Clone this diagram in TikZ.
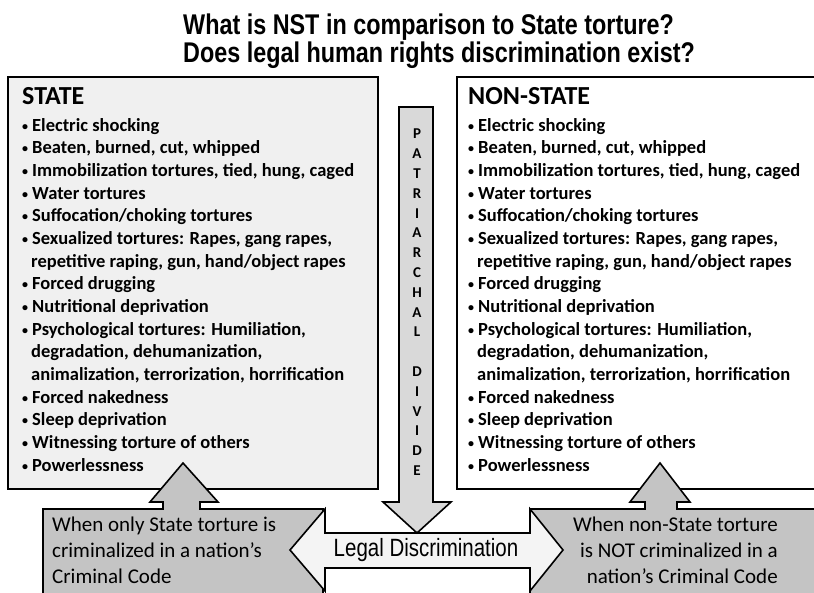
\documentclass[tikz,border=0pt]{standalone}
\usepackage{fontspec}
\setmainfont{Carlito}
\newfontfamily\narrowfont[FakeStretch=0.82]{Liberation Sans}
\definecolor{panelgray}{HTML}{F0F0F0}
\definecolor{dividegray}{HTML}{D9D9D9}
\definecolor{calloutgray}{HTML}{C4C4C4}
\definecolor{legalgray}{HTML}{F4F4F4}
\newcommand{\bl}{\makebox[10pt][l]{\raisebox{1pt}{\fontsize{12}{12}\selectfont\textbullet}}}
\newcommand{\cont}{\hspace*{9pt}}
\tikzset{
  panel/.style={draw=black, line width=1.6pt},
  arrowshape/.style={draw=black, line width=1.6pt, line join=miter},
  listtext/.style={anchor=north west, inner sep=0pt, align=left,
    font=\bfseries\fontsize{18.5}{22.67}\selectfont},
  headtext/.style={anchor=base west, inner sep=0pt,
    font=\bfseries\fontsize{26}{30}\selectfont},
  codetext/.style={inner sep=0pt, font=\fontsize{21}{26}\selectfont}
}
\begin{document}
\begin{tikzpicture}[x=1pt, y=-1pt]
  \useasboundingbox (0,0) rectangle (814,593);

  % title
  \node[anchor=north west, inner sep=0pt, align=left,
    font=\narrowfont\bfseries\fontsize{28.5}{28}\selectfont] (title) at (183,14)
    {What is NST in comparison to State torture?\\Does legal human rights discrimination exist?};

  % the two panels
  \draw[panel, fill=panelgray] (8,77) rectangle (378,489);
  \draw[panel, fill=white] (457,77) rectangle (830,489);

  \node[headtext] (statehead) at (22,105) {STATE};
  \node[headtext] (nonstatehead) at (468,105) {NON-STATE};

  \node[listtext] (statelist) at (22,118) {%
    \bl Electric shocking\\
    \bl Beaten, burned, cut, whipped\\
    \bl Immobilization tortures, tied, hung, caged\\
    \bl Water tortures\\
    \bl Suffocation/choking tortures\\
    \bl Sexualized tortures: Rapes, gang rapes,\\
    \cont repetitive raping, gun, hand/object rapes\\
    \bl Forced drugging\\
    \bl Nutritional deprivation\\
    \bl Psychological tortures: Humiliation,\\
    \cont degradation, dehumanization,\\
    \cont animalization, terrorization, horrification\\
    \bl Forced nakedness\\
    \bl Sleep deprivation\\
    \bl Witnessing torture of others\\
    \bl Powerlessness};
  \node[listtext] (nonstatelist) at (468,118) {%
    \bl Electric shocking\\
    \bl Beaten, burned, cut, whipped\\
    \bl Immobilization tortures, tied, hung, caged\\
    \bl Water tortures\\
    \bl Suffocation/choking tortures\\
    \bl Sexualized tortures: Rapes, gang rapes,\\
    \cont repetitive raping, gun, hand/object rapes\\
    \bl Forced drugging\\
    \bl Nutritional deprivation\\
    \bl Psychological tortures: Humiliation,\\
    \cont degradation, dehumanization,\\
    \cont animalization, terrorization, horrification\\
    \bl Forced nakedness\\
    \bl Sleep deprivation\\
    \bl Witnessing torture of others\\
    \bl Powerlessness};

  % callouts with their up arrows
  \draw[arrowshape, fill=calloutgray] (43,610) -- (43,509) -- (163,509) -- (163,502)
    -- (150,502) -- (183,463) -- (218,502) -- (200,502) -- (200,509)
    -- (323,509) -- (323,610) -- cycle;
  \draw[arrowshape, fill=calloutgray] (530,610) -- (530,509) -- (645,509) -- (645,502)
    -- (630,502) -- (660,463) -- (690,502) -- (677,502) -- (677,509)
    -- (830,509) -- (830,610) -- cycle;

  % legal discrimination arrow
  \draw[arrowshape, fill=legalgray] (290,550) -- (325,509) -- (325,533) -- (530,533)
    -- (530,509) -- (563,550) -- (530,591) -- (530,568) -- (325,568)
    -- (325,591) -- cycle;

  % patriarchal divide arrow
  \draw[arrowshape, fill=dividegray] (399,107) -- (433,107) -- (433,502) -- (451,502)
    -- (417,533) -- (383,502) -- (399,502) -- cycle;

  \node[anchor=north, inner sep=0pt, align=center,
    font=\bfseries\fontsize{15}{19.8}\selectfont] (divide) at (417,129)
    {P\\A\\T\\R\\I\\A\\R\\C\\H\\A\\L\\\mbox{}\\D\\I\\V\\I\\D\\E};

  \node[inner sep=0pt, font=\narrowfont\fontsize{25}{26}\selectfont]
    (legal) at (426,550) {Legal Discrimination};

  \node[codetext, anchor=north west, align=left] (statecode) at (52,517)
    {When only State torture is\\criminalized in a nation’s\\Criminal Code};
  \node[codetext, anchor=north east, align=right] (nonstatecode) at (778,517)
    {When non-State torture\\is NOT criminalized in a\\nation’s Criminal Code};
\end{tikzpicture}
\end{document}
